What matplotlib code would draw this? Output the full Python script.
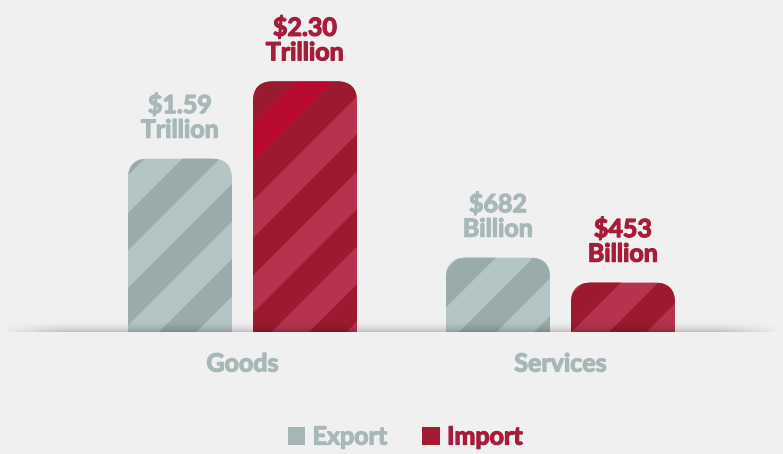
import numpy as np
import matplotlib
matplotlib.use("Agg")
import matplotlib.pyplot as plt
import matplotlib.patheffects as pe
from matplotlib.patches import FancyBboxPatch, Polygon, Patch

# data (trillions of dollars)
categories = ["Goods", "Services"]
series = ["Export", "Import"]
export_vals = [1.59, 0.682]
import_vals = [2.30, 0.453]
export_labels = ["$1.59\nTrillion", "$682\nBillion"]
import_labels = ["$2.30\nTrillion", "$453\nBillion"]

# styling
bg = "#f0f0f0"
gray_light, gray_dark, gray_text = "#b4c5c5", "#9aabab", "#a8b8b8"
red_light, red_dark, red_bright, red_text = "#b6334f", "#9c1a30", "#b70a31", "#a61c3b"
font = {"family": "Lato", "weight": "bold"}


def heavy(col):
    # thicken the strokes a little, the original font is heavier than Lato Bold
    return [pe.withStroke(linewidth=0.9, foreground=col)]


W, H = 783, 454
base_px = 332          # baseline, image pixel row
PX = 318.0             # pixels per category step
PY = 109.0             # pixels per trillion
bar_w = 104 / PX
offset = 62.5 / PX
radius = 20 / PX
period, dark_w, phase = 75.0, 37.5, 41.0

fig = plt.figure(figsize=(W / 100, H / 100), dpi=100, facecolor=bg)
ax = fig.add_axes([0, (H - base_px) / H, 1, base_px / H])
ax.set_facecolor(bg)
xmin = -242.5 / PX
ax.set_xlim(xmin, xmin + W / PX)
ax.set_ylim(0, base_px / PY)
ax.axis("off")


def to_data(xp, yp):
    return xmin + xp / PX, (base_px - yp) / PY


def bar(xc, val, light, dark, bright=None):
    x0 = xc - bar_w / 2
    patch = FancyBboxPatch((x0, -0.5), bar_w, val + 0.5,
                           boxstyle=f"round,pad=0,rounding_size={radius}",
                           mutation_aspect=PX / PY, fc=light, ec="none", zorder=2)
    ax.add_patch(patch)
    # diagonal stripes in pixel space
    xl = (x0 - xmin) * PX
    xr = xl + bar_w * PX
    ytop = base_px - val * PY
    y1, y2 = ytop - 10, base_px + 10
    u_lo, u_hi = xl + y1, xr + y2
    k0 = int(np.floor((u_lo - phase) / period)) - 1
    k1 = int(np.ceil((u_hi - phase) / period)) + 1
    for k in range(k0, k1):
        a = phase + k * period
        bands = [(a, a + dark_w, dark)]
        if bright is not None:
            la, lb = a + dark_w, a + period
            if la < xr + ytop and lb > (xl + xr) / 2 + ytop:
                bands.append((la, lb, bright))
        for ua, ub, col in bands:
            pts = [to_data(ua - y1, y1), to_data(ub - y1, y1),
                   to_data(ub - y2, y2), to_data(ua - y2, y2)]
            poly = Polygon(pts, closed=True, fc=col, ec="none", zorder=3)
            ax.add_patch(poly)
            poly.set_clip_path(patch)


for i, cat in enumerate(categories):
    xe, xi = i - offset, i + offset
    bar(xe, export_vals[i], gray_light, gray_dark)
    hi = red_bright if import_vals[i] == max(import_vals) else None
    bar(xi, import_vals[i], red_light, red_dark, hi)
    for xc, v, lab, col in [(xe, export_vals[i], export_labels[i], gray_text),
                            (xi, import_vals[i], import_labels[i], red_text)]:
        ax.text(xc, v + 17 / PY, lab, ha="center", va="bottom", fontsize=18,
                color=col, linespacing=1.08, path_effects=heavy(col), **font)
    ax.text(i, -32 / PY, cat, ha="center", va="center", fontsize=18,
            color=gray_text, clip_on=False, path_effects=heavy(gray_text), **font)

# soft shadow along the baseline
ny, nx = 40, 400
vy = np.linspace(0, 1, ny)[:, None] ** 2.2
xs = np.linspace(0, W, nx)[None, :]
fade = np.clip(xs / 60, 0, 1) * np.clip((W - xs) / 60, 0, 1)
shade = np.zeros((ny, nx, 4))
shade[..., 3] = 0.2 * vy * fade
ax.imshow(shade, extent=(xmin, xmin + W / PX, 0, 12 / PY), aspect="auto",
          zorder=5, interpolation="bilinear")
ax.set_ylim(0, base_px / PY)

handles = [Patch(fc="#a7b5b5", ec="none"), Patch(fc="#a51b36", ec="none")]
leg = fig.legend(handles, series, loc="center", bbox_to_anchor=(405 / W, 1 - 437 / H),
                 ncol=2, frameon=False, handlelength=0.7, handleheight=0.7,
                 handletextpad=0.3, columnspacing=1.4,
                 prop={"family": "Lato", "weight": "bold", "size": 18})
for t, c in zip(leg.get_texts(), [gray_text, red_text]):
    t.set_color(c)
    t.set_path_effects(heavy(c))

fig.savefig("out.png", dpi=100, facecolor=bg)
